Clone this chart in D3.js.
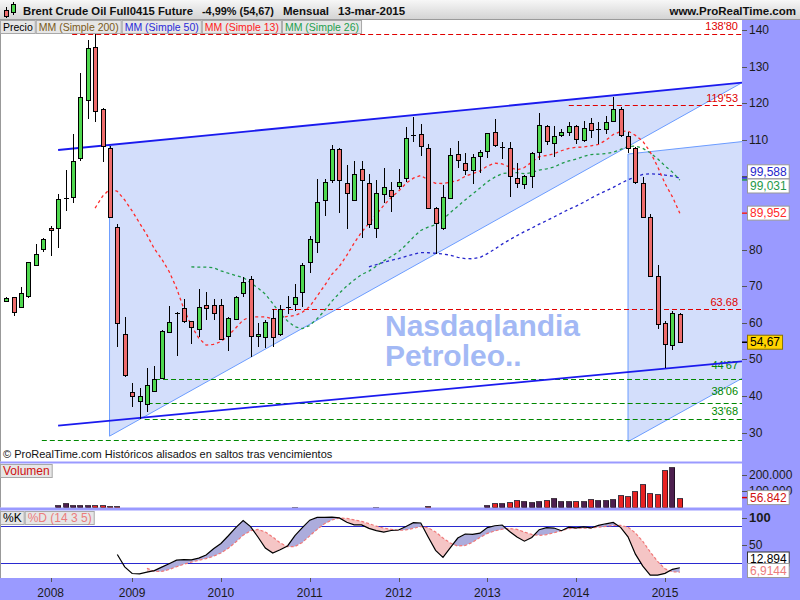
<!DOCTYPE html>
<html><head><meta charset="utf-8">
<script src="https://cdn.jsdelivr.net/npm/d3@7/dist/d3.min.js"></script>
<style>
html,body{margin:0;padding:0;background:#fff;overflow:hidden}
svg{display:block}
text{font-family:"Liberation Sans",Arial,Helvetica,sans-serif}
</style></head><body>
<svg id="chart" width="800" height="600"></svg>
<script>
// ---------------- DATA ----------------
const opens=[65.9,67.0,64.2,67.4,75.7,80.1,85.8,85.8,94.0,94.4,
104.9,120.8,135.3,118.3,107.8,86.2,56.8,41.1,38.5,37.9,
41.3,44.8,57.5,62.7,63.9,60.4,58.2,64.8,64.8,64.8,
56.3,60.9,68.1,71.9,56.3,56.0,61.2,56.8,64.1,65.0,
68.3,76.5,82.1,93.5,98.9,107.4,98.1,93.5,101.9,98.1,
85.8,95.1,96.2,97.3,99.5,111.3,111.5,107.7,91.3,85.8,
94.0,106.0,103.6,101.7,105.5,106.8,112.0,107.8,107.7,99.5,
97.8,100.0,106.6,113.7,109.0,111.2,112.0,113.7,109.9,114.5,
112.9,112.9,115.0,118.3,111.0,107.7,98.1,89.0,72.8,59.8,
53.8,62.3];
const highs=[67.0,67.1,69.8,76.6,81.4,83.2,86.4,95.1,101.7,111.6,
128.3,137.3,138.8,118.6,108.3,87.0,61.6,43.6,42.1,47.5,
48.2,58.0,64.6,62.9,66.5,60.5,69.2,68.5,66.5,66.5,
61.6,67.2,72.6,72.8,60.0,60.7,63.7,64.8,67.3,70.5,
76.4,83.7,99.3,99.2,108.6,107.7,103.1,104.2,104.2,100.6,
98.9,102.2,98.4,101.9,113.5,116.3,114.2,108.8,91.5,97.6,
107.7,109.6,106.3,106.0,107.1,111.9,115.6,109.3,109.3,103.6,
100.3,106.6,117.2,114.0,113.7,112.9,114.8,114.0,115.0,115.9,
114.8,116.4,121.8,118.9,112.0,108.0,99.9,89.6,75.8,60.5,
63.2,62.7];
const lows=[65.7,61.9,64.0,66.8,75.5,79.4,78.3,80.5,90.6,92.8,
104.3,115.6,114.9,104.0,88.5,53.3,45.3,37.0,33.68,35.7,
41.1,44.67,57.4,51.0,60.0,54.2,56.0,60.7,60.7,55.3,
52.3,60.7,67.1,50.7,53.4,53.0,53.4,56.4,62.3,63.2,
64.4,73.5,79.1,89.2,98.1,89.9,85.6,93.4,83.2,85.8,
83.1,92.6,90.2,96.5,98.4,109.5,105.5,91.0,78.7,85.3,
93.8,102.2,100.3,97.8,100.8,104.9,108.0,104.7,94.4,96.7,
96.5,96.7,104.4,108.5,105.2,110.7,111.0,108.8,109.3,110.4,
108.8,111.5,114.8,110.8,106.3,97.8,88.9,72.5,58.2,47.5,
52.5,54.4];
const closes=[66.7,62.8,68.0,76.5,78.7,82.9,85.3,93.7,94.1,104.2,
121.6,135.0,117.9,108.3,88.8,59.8,45.7,40.0,39.9,42.9,
44.5,57.7,60.1,62.6,60.4,58.8,64.2,63.9,62.6,55.5,
61.2,67.0,71.0,56.3,56.9,60.1,56.0,63.7,64.2,67.0,
75.7,82.8,92.9,98.4,107.4,98.9,95.4,100.6,98.9,86.9,
95.4,97.0,94.5,98.4,110.4,111.4,108.2,91.3,87.2,94.3,
105.8,104.4,101.7,105.2,106.6,111.8,108.5,107.9,100.0,98.1,
100.0,106.3,114.0,109.6,111.0,112.0,113.7,110.1,113.1,112.6,
113.0,114.8,118.3,111.2,107.7,98.4,89.0,72.8,59.6,54.1,
62.6,54.67];
const volumes=[0,0,0,0,0,0,0,10000,21000,10000,
10000,10000,12000,10000,6000,5000,0,0,0,0,
0,0,0,0,0,0,0,0,0,0,
0,0,0,0,0,0,0,0,0,1000,
0,0,0,0,0,0,0,0,0,0,
1000,0,0,0,0,0,0,6000,0,0,
0,0,0,0,0,10000,25000,25000,29000,42000,
36000,31000,36000,42000,52000,36000,36000,36000,36000,46000,
42000,42000,46000,73000,67000,98000,142000,88000,79000,229000,
250000,56842];
const yearLabels=["2008","2009","2010","2011","2012","2013","2014","2015"];
const yearBars=[6,17,29,41,53,65,77,89];
const priceTicks=[30,40,50,60,70,80,90,100,110,120,130,140];
const volumeTicks=[100000,200000];
const stochTicks=[50,100];
const stochLevels=[20,80];
const levelValues=[138.80,119.53,63.68,44.67,38.06,33.68,27.9];
const levelStartBars=[8.9,76,35.9,20.1,19.1,18.7,4.8];
const levelLabels=["138'80","119'53","63.68","44'67","38'06","33'68",""];
const upperTrend=[[7.0,107.2],[99.4,125.6]];
const lowerTrend=[[7.0,31.9],[99.4,49.45]];
const wedgeA=[[13.95,108.6],[99.4,125.6],[13.95,29.0]];
const wedgeB=[[84.0,106.1],[99.4,109.5],[99.4,44.8],[84.0,27.5]];
const maPeriods=[50,26,13];
const maLastLabels=[99.588,99.031,89.952];
const stochLastLabels=[12.894,6.9144];
const titleParts=["Brent Crude Oil Full0415 Future","-4,99% (54,67)","Mensual","13-mar-2015"];
const siteLabel="www.ProRealTime.com";
const legendItems=["Precio","MM (Simple 200)","MM (Simple 50)","MM (Simple 13)","MM (Simple 26)"];
const watermark=["Nasdaqlandia","Petroleo.."];
const footnote="© ProRealTime.com  Históricos alisados en saltos tras vencimientos";

// ---------------- STYLE ----------------
const LAV="#9a9aff", UP="#4fd84f", DN="#ee6c6c", VUP="#4d1f4f", VDN="#e82222";
const MA_COL={50:"#2626cc",26:"#1f9a4a",13:"#ff2a2a"};
const LEG_COL=["#000","#7a5a1a","#2a2ad8","#ff2020","#1f9f4f"];
const levelColor=["#e00000","#e00000","#e00000","#008800","#008800","#008800","#008800"];
const levelLabelDy=[-4,-3,-3,-10,-8,-4,0];
const titleX=[23,202,283,338];
const FILL="#d3defb", EDGE="#6b9cff";

const svg=d3.select("#chart");
const PR=742;
const x=d3.scaleLinear().domain([-0.85,99.4]).range([0,PR]);
const y=d3.scaleLinear().domain([30,140]).range([432.5,30]);
const yV=d3.scaleLinear().domain([0,200000]).range([506.7,474.7]);
const yS=d3.scaleLinear().domain([0,100]).range([575.8,513.6]);
const loc=d3.formatLocale({decimal:",",thousands:".",grouping:[3],currency:["",""]});
const fV=loc.format(",d");
const comma=v=>String(v).replace(".",",");

svg.append("rect").attr("width",800).attr("height",600).attr("fill",LAV);
const defs=svg.append("defs");
const gr=defs.append("linearGradient").attr("id","hdr").attr("x1",0).attr("y1",0).attr("x2",0).attr("y2",1);
gr.append("stop").attr("offset","0%").attr("stop-color","#f7f7f7");
gr.append("stop").attr("offset","100%").attr("stop-color","#d2d2d2");
svg.append("rect").attr("x",0).attr("y",0).attr("width",800).attr("height",20).attr("fill","url(#hdr)");
svg.append("line").attr("x1",0).attr("x2",800).attr("y1",19.5).attr("y2",19.5).attr("stroke","#9a9a9a");

// panels
const panels=[[20,441.5],[463.5,44],[510.5,67.5]];
panels.forEach(p=>{
  svg.append("rect").attr("x",0).attr("y",p[0]).attr("width",PR).attr("height",p[1]).attr("fill","#fff");
  svg.append("line").attr("x1",0.5).attr("x2",0.5).attr("y1",p[0]).attr("y2",p[0]+p[1]).attr("stroke","#999");
});
defs.append("clipPath").attr("id","cm").append("rect").attr("x",1).attr("y",20).attr("width",PR-1).attr("height",441.5);
defs.append("clipPath").attr("id","cv").append("rect").attr("x",1).attr("y",463.5).attr("width",PR-1).attr("height",44);
defs.append("clipPath").attr("id","cs").append("rect").attr("x",1).attr("y",510.5).attr("width",PR-1).attr("height",67.5);

// ---------- header ----------
const icon=svg.append("g");
icon.append("line").attr("x1",6.5).attr("x2",6.5).attr("y1",7).attr("y2",18).attr("stroke","#000");
icon.append("rect").attr("x",4.5).attr("y",10.5).attr("width",4).attr("height",6).attr("fill",DN).attr("stroke","#000");
icon.append("line").attr("x1",13.5).attr("x2",13.5).attr("y1",2).attr("y2",15).attr("stroke","#000");
icon.append("rect").attr("x",11.5).attr("y",4.5).attr("width",4).attr("height",8).attr("fill",UP).attr("stroke","#000");
titleParts.forEach((t,k)=>{
  const el=svg.append("text").attr("x",titleX[k]).attr("y",15).attr("font-size",11.5).attr("font-weight","bold").attr("fill","#111").text(t);
  if(k<titleParts.length-1){
    const avail=titleX[k+1]-titleX[k]-9, w=el.node().getComputedTextLength();
    if(w>avail) el.attr("textLength",avail).attr("lengthAdjust","spacingAndGlyphs");
  }
});
svg.append("text").attr("x",796).attr("y",15).attr("text-anchor","end").attr("font-size",11.5).attr("font-weight","bold").attr("fill","#111").text(siteLabel);

// ---------- main panel ----------
const M=svg.append("g").attr("clip-path","url(#cm)");
const pt=d=>[x(d[0]),y(d[1])];
M.append("polygon").attr("points",wedgeA.map(d=>pt(d).join(",")).join(" ")).attr("fill",FILL);
M.append("polygon").attr("points",wedgeB.map(d=>pt(d).join(",")).join(" ")).attr("fill",FILL);
M.append("polyline").attr("points",[wedgeA[0],wedgeA[2],wedgeA[1]].map(d=>pt(d).join(",")).join(" ")).attr("fill","none").attr("stroke",EDGE);
M.append("polyline").attr("points",[wedgeB[1],wedgeB[0],wedgeB[3],wedgeB[2]].map(d=>pt(d).join(",")).join(" ")).attr("fill","none").attr("stroke",EDGE);

watermark.forEach((t,k)=>{
  M.append("text").attr("x",385).attr("y",336+k*30).attr("font-size",30).attr("font-weight","bold").attr("fill","#a3b9f5").text(t);
});

levelValues.forEach((v,k)=>{
  M.append("line").attr("x1",x(levelStartBars[k])).attr("x2",PR).attr("y1",Math.round(y(v))+0.5).attr("y2",Math.round(y(v))+0.5)
   .attr("stroke",levelColor[k]).attr("stroke-dasharray","5,3");
  if(levelLabels[k]) M.append("text").attr("x",738).attr("y",y(v)+levelLabelDy[k]).attr("text-anchor","end")
   .attr("font-size",11).attr("fill",levelColor[k]).text(levelLabels[k]);
});

// moving averages
const sma=(arr,n)=>arr.map((v,i)=>i<n-1?null:d3.mean(arr.slice(i-n+1,i+1)));
const maVals={};
maPeriods.forEach(n=>{
  maVals[n]=sma(closes,n);
  const line=d3.line().defined(d=>d!=null).x((d,i)=>x(i)).y(d=>y(d));
  M.append("path").attr("d",line(maVals[n])).attr("fill","none").attr("stroke",MA_COL[n]).attr("stroke-width",1.3).attr("stroke-dasharray","3,3");
});

[upperTrend,lowerTrend].forEach(l=>{
  M.append("line").attr("x1",x(l[0][0])).attr("y1",y(l[0][1])).attr("x2",x(l[1][0])).attr("y2",y(l[1][1]))
   .attr("stroke","#1a1aee").attr("stroke-width",1.8);
});

// candles
const C=M.append("g").attr("shape-rendering","crispEdges");
closes.forEach((c,i)=>{
  const o=opens[i], cx=Math.round(x(i));
  C.append("line").attr("x1",cx+0.5).attr("x2",cx+0.5).attr("y1",y(highs[i])).attr("y2",y(lows[i])).attr("stroke","#000");
  if(Math.abs(c-o)<0.35){
    C.append("line").attr("x1",cx-2).attr("x2",cx+3).attr("y1",Math.round(y(c))+0.5).attr("y2",Math.round(y(c))+0.5).attr("stroke","#000");
  } else {
    const top=Math.round(y(Math.max(o,c))), bot=Math.round(y(Math.min(o,c)));
    C.append("rect").attr("x",cx-1.5).attr("y",top+0.5).attr("width",4).attr("height",Math.max(1,bot-top))
     .attr("fill",c>o?UP:DN).attr("stroke","#000");
  }
});

// label box helper (top-left tag)
function tag(x0,y0,txt,col,fs){
  const g=svg.append("g");
  const r=g.append("rect").attr("x",x0+0.5).attr("y",y0+0.5).attr("height",13).attr("fill","#e6e6e6").attr("stroke","#a8a8a8");
  const t=g.append("text").attr("x",x0+3).attr("y",y0+11).attr("font-size",fs).attr("fill",col).text(txt);
  const w=t.node().getComputedTextLength()+5;
  r.attr("width",w);
  return x0+w+1;
}
let lx=0;
legendItems.forEach((t,k)=>{ lx=tag(lx,20,t,LEG_COL[k],10.5); });
svg.append("text").attr("x",3).attr("y",458).attr("font-size",11).attr("fill","#111").text(footnote);

// ---------- right axis main ----------
const A=svg.append("g");
function spread(items,gap,lo,hi){
  items.sort((a,b)=>a.y-b.y);
  for(let k=0;k<40;k++){
    for(let i=1;i<items.length;i++){
      const d=items[i].y-items[i-1].y;
      if(d<gap){const m=(items[i].y+items[i-1].y)/2;items[i-1].y=m-gap/2;items[i].y=m+gap/2;}
    }
    items.forEach(it=>{it.y=Math.max(lo,Math.min(hi,it.y));});
  }
  return items;
}
function box(g,cy,txt,col,bg,border,bold){
  const t=g.append("text").attr("y",cy+4).attr("font-size",12).attr("fill",col).attr("font-weight",bold?"bold":"normal").text(txt);
  const w=t.node().getComputedTextLength()+5;
  g.insert("rect","text").attr("x",747.5).attr("y",cy-7).attr("width",w).attr("height",14).attr("fill",bg).attr("stroke",border);
  t.attr("x",747.5+w/2).attr("text-anchor","middle");
}
const maItems=maPeriods.map((n,k)=>({v:maLastLabels[k],y:y(maLastLabels[k]),ny:y(maLastLabels[k]),col:MA_COL[n]}));
spread(maItems,14.2,28,455);
const last=closes[closes.length-1];
const boxYs=maItems.map(d=>d.y).concat([y(last)]);
priceTicks.forEach(v=>{
  A.append("line").attr("x1",PR).attr("x2",PR+5).attr("y1",Math.round(y(v))+0.5).attr("y2",Math.round(y(v))+0.5).attr("stroke","#555");
  if(boxYs.some(b=>Math.abs(b-y(v))<11)) return;
  A.append("text").attr("x",749).attr("y",y(v)+4).attr("font-size",12).attr("fill","#1a1a1a").text(v);
});
maItems.forEach(it=>A.append("line").attr("x1",PR).attr("x2",PR+6).attr("y1",it.ny).attr("y2",it.ny).attr("stroke",it.col).attr("stroke-width",1.5));
maItems.forEach(it=>{const g=A.append("g");box(g,it.y,comma(it.v),it.col,"#fff","#9a9a9a");});
A.append("line").attr("x1",PR).attr("x2",PR+6).attr("y1",y(last)).attr("y2",y(last)).attr("stroke","#000").attr("stroke-width",1.5);
box(A.append("g"),y(last),comma(last),"#000","#ffd400","#8a7300");

// ---------- volume ----------
const V=svg.append("g").attr("clip-path","url(#cv)").attr("shape-rendering","crispEdges");
volumes.forEach((v,i)=>{
  if(!v) return;
  const cx=Math.round(x(i)), top=Math.round(yV(v)), base=Math.round(yV(0));
  V.append("rect").attr("x",cx-2.5).attr("y",top+0.5).attr("width",5).attr("height",Math.max(0.5,base-top))
   .attr("fill",closes[i]>=opens[i]?VUP:VDN).attr("stroke","#1a0a1a").attr("stroke-width",0.8);
});
tag(0,464,"Volumen","#d01010",12);
volumeTicks.forEach(v=>{
  A.append("line").attr("x1",PR).attr("x2",PR+5).attr("y1",Math.round(yV(v))+0.5).attr("y2",Math.round(yV(v))+0.5).attr("stroke","#555");
  A.append("text").attr("x",749).attr("y",yV(v)+4).attr("font-size",12).attr("fill","#1a1a1a").text(fV(v));
});
const lv=volumes[volumes.length-1];
A.append("line").attr("x1",PR).attr("x2",PR+6).attr("y1",yV(lv)).attr("y2",yV(lv)).attr("stroke","#d00").attr("stroke-width",1.5);
box(A.append("g"),yV(lv),fV(lv),"#d01010","#fff","#9a9a9a");

// ---------- stochastic ----------
const rawK=closes.map((c,i)=>{ if(i<13) return null;
  const hh=d3.max(highs.slice(i-13,i+1)), ll=d3.min(lows.slice(i-13,i+1)); return 100*(c-ll)/(hh-ll);});
const kL=rawK.map((v,i)=>i<15?null:d3.mean(rawK.slice(i-2,i+1)));
const dL=kL.map((v,i)=>i<19?null:d3.mean(kL.slice(i-4,i+1)));
const S=svg.append("g").attr("clip-path","url(#cs)");
stochLevels.forEach(v=>S.append("line").attr("x1",0).attr("x2",PR).attr("y1",Math.round(yS(v))+0.5).attr("y2",Math.round(yS(v))+0.5).attr("stroke","#2a2ad0"));
const idx=d3.range(19,closes.length);
const aBetween=d3.area().x(i=>x(i)).y0(i=>yS(dL[i])).y1(i=>yS(kL[i]));
defs.append("clipPath").attr("id","kBelow").append("path").attr("d",d3.area().x(i=>x(i)).y0(i=>yS(kL[i])).y1(600)(idx));
defs.append("clipPath").attr("id","kAbove").append("path").attr("d",d3.area().x(i=>x(i)).y0(0).y1(i=>yS(kL[i]))(idx));
S.append("path").attr("d",aBetween(idx)).attr("fill","#acacdc").attr("clip-path","url(#kBelow)");
S.append("path").attr("d",aBetween(idx)).attr("fill","#f5c5c5").attr("clip-path","url(#kAbove)");
S.append("path").attr("d",d3.line().defined(d=>d!=null).x((d,i)=>x(i)).y(d=>yS(d))(dL)).attr("fill","none").attr("stroke","#f07878").attr("stroke-width",1.2).attr("stroke-dasharray","3,2");
S.append("path").attr("d",d3.line().defined(d=>d!=null).x((d,i)=>x(i)).y(d=>yS(d))(kL)).attr("fill","none").attr("stroke","#000").attr("stroke-width",1.2);
let sx=tag(0,511,"%K","#000",12);
tag(sx,511,"%D (14 3 5)","#ec7c7c",12);
stochTicks.forEach(v=>{
  const yy=Math.max(yS(v),517.5);
  A.append("line").attr("x1",PR).attr("x2",PR+5).attr("y1",Math.round(yy)+0.5).attr("y2",Math.round(yy)+0.5).attr("stroke","#555");
  A.append("text").attr("x",749).attr("y",yy+4.5).attr("font-size",v===100?13:12).attr("font-weight",v===100?"bold":"normal").attr("fill","#1a1a1a").text(v);
});
const sItems=[{v:stochLastLabels[0],y:yS(stochLastLabels[0]),col:"#000",bc:"#333"},{v:stochLastLabels[1],y:yS(stochLastLabels[1]),col:"#ec7c7c",bc:"#9a9a9a"}];
spread(sItems,11.5,517,570.5).forEach(it=>box(A.append("g"),it.y,comma(it.v),it.col,"#fff",it.bc));

// ---------- x axis ----------
yearBars.forEach((b,k)=>{
  A.append("line").attr("x1",Math.round(x(b))+0.5).attr("x2",Math.round(x(b))+0.5).attr("y1",578).attr("y2",582).attr("stroke","#555");
  A.append("text").attr("x",x(b)).attr("y",596.5).attr("text-anchor","middle").attr("font-size",12).attr("fill","#1a1a1a").text(yearLabels[k]);
});
</script></body></html>
